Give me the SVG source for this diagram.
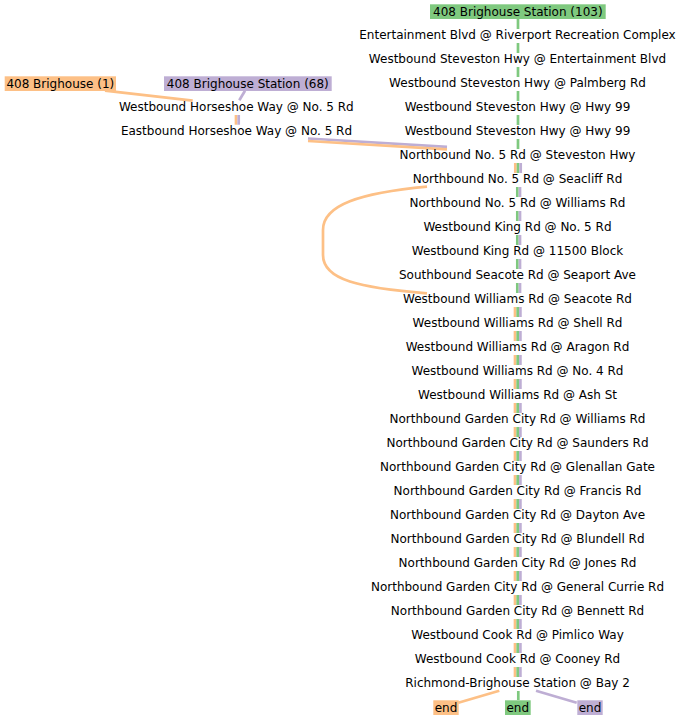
<svg xmlns="http://www.w3.org/2000/svg" width="682" height="720" viewBox="0 0 682 720">
<style>
text{font-family:"DejaVu Sans",sans-serif;font-size:12px;fill:#000;text-anchor:middle}
.o{stroke:#fdc086}.g{stroke:#7fc97f}.p{stroke:#beaed4}
#edges line,#edges path{stroke-width:2.7;fill:none}
.bo{fill:#fdc086}.bg{fill:#7fc97f}.bp{fill:#beaed4}
</style>
<rect width="682" height="720" fill="#fff"/>
<g id="edges">
<line class="g" x1="518" y1="19" x2="518" y2="29"/>
<line class="g" x1="518" y1="43" x2="518" y2="53"/>
<line class="g" x1="518" y1="67" x2="518" y2="77"/>
<line class="g" x1="518" y1="91" x2="518" y2="101"/>
<line class="g" x1="518" y1="115" x2="518" y2="125"/>
<line class="g" x1="518" y1="139" x2="518" y2="149"/>
<line class="o" x1="105" y1="90.7" x2="192.7" y2="100.7"/>
<line class="p" x1="245" y1="90.7" x2="239.3" y2="100.3"/>
<line class="o" x1="236" y1="115" x2="236" y2="124.7"/>
<line class="p" x1="238.7" y1="115" x2="238.7" y2="124.7"/>
<line class="p" x1="308" y1="138.5" x2="447" y2="146.8"/>
<line class="o" x1="308" y1="141" x2="447" y2="149.3"/>
<line class="o" x1="515.3" y1="163" x2="515.3" y2="173"/>
<line class="g" x1="518" y1="163" x2="518" y2="173"/>
<line class="p" x1="520.7" y1="163" x2="520.7" y2="173"/>
<path class="o" d="M427,186.7 C360,193 323,205 323,230 L323,255 C323,280 360,288 427,293.3"/>
<g id="mid2">
<line class="g" x1="517.3" y1="187" x2="517.3" y2="197"/><line class="p" x1="520" y1="187" x2="520" y2="197"/>
<line class="g" x1="517.3" y1="211" x2="517.3" y2="221"/><line class="p" x1="520" y1="211" x2="520" y2="221"/>
<line class="g" x1="517.3" y1="235" x2="517.3" y2="245"/><line class="p" x1="520" y1="235" x2="520" y2="245"/>
<line class="g" x1="517.3" y1="259" x2="517.3" y2="269"/><line class="p" x1="520" y1="259" x2="520" y2="269"/>
<line class="g" x1="517.3" y1="283" x2="517.3" y2="293"/><line class="p" x1="520" y1="283" x2="520" y2="293"/>
</g>
<g id="mid3">
<line class="o" x1="515" y1="307" x2="515" y2="317"/><line class="g" x1="517.7" y1="307" x2="517.7" y2="317"/><line class="p" x1="520.4" y1="307" x2="520.4" y2="317"/>
<line class="o" x1="515" y1="331" x2="515" y2="341"/><line class="g" x1="517.7" y1="331" x2="517.7" y2="341"/><line class="p" x1="520.4" y1="331" x2="520.4" y2="341"/>
<line class="o" x1="515" y1="355" x2="515" y2="365"/><line class="g" x1="517.7" y1="355" x2="517.7" y2="365"/><line class="p" x1="520.4" y1="355" x2="520.4" y2="365"/>
<line class="o" x1="515" y1="379" x2="515" y2="389"/><line class="g" x1="517.7" y1="379" x2="517.7" y2="389"/><line class="p" x1="520.4" y1="379" x2="520.4" y2="389"/>
<line class="o" x1="515" y1="403" x2="515" y2="413"/><line class="g" x1="517.7" y1="403" x2="517.7" y2="413"/><line class="p" x1="520.4" y1="403" x2="520.4" y2="413"/>
<line class="o" x1="515" y1="427" x2="515" y2="437"/><line class="g" x1="517.7" y1="427" x2="517.7" y2="437"/><line class="p" x1="520.4" y1="427" x2="520.4" y2="437"/>
<line class="o" x1="515" y1="451" x2="515" y2="461"/><line class="g" x1="517.7" y1="451" x2="517.7" y2="461"/><line class="p" x1="520.4" y1="451" x2="520.4" y2="461"/>
<line class="o" x1="515" y1="475" x2="515" y2="485"/><line class="g" x1="517.7" y1="475" x2="517.7" y2="485"/><line class="p" x1="520.4" y1="475" x2="520.4" y2="485"/>
<line class="o" x1="515" y1="499" x2="515" y2="509"/><line class="g" x1="517.7" y1="499" x2="517.7" y2="509"/><line class="p" x1="520.4" y1="499" x2="520.4" y2="509"/>
<line class="o" x1="515" y1="523" x2="515" y2="533"/><line class="g" x1="517.7" y1="523" x2="517.7" y2="533"/><line class="p" x1="520.4" y1="523" x2="520.4" y2="533"/>
<line class="o" x1="515" y1="547" x2="515" y2="557"/><line class="g" x1="517.7" y1="547" x2="517.7" y2="557"/><line class="p" x1="520.4" y1="547" x2="520.4" y2="557"/>
<line class="o" x1="515" y1="571" x2="515" y2="581"/><line class="g" x1="517.7" y1="571" x2="517.7" y2="581"/><line class="p" x1="520.4" y1="571" x2="520.4" y2="581"/>
<line class="o" x1="515" y1="595" x2="515" y2="605"/><line class="g" x1="517.7" y1="595" x2="517.7" y2="605"/><line class="p" x1="520.4" y1="595" x2="520.4" y2="605"/>
<line class="o" x1="515" y1="619" x2="515" y2="629"/><line class="g" x1="517.7" y1="619" x2="517.7" y2="629"/><line class="p" x1="520.4" y1="619" x2="520.4" y2="629"/>
<line class="o" x1="515" y1="643" x2="515" y2="653"/><line class="g" x1="517.7" y1="643" x2="517.7" y2="653"/><line class="p" x1="520.4" y1="643" x2="520.4" y2="653"/>
<line class="o" x1="515" y1="667" x2="515" y2="677"/><line class="g" x1="517.7" y1="667" x2="517.7" y2="677"/><line class="p" x1="520.4" y1="667" x2="520.4" y2="677"/>
</g>
<line class="o" x1="499.3" y1="690.7" x2="458.3" y2="702.7"/>
<line class="g" x1="518.3" y1="691" x2="518.3" y2="700"/>
<line class="p" x1="536" y1="690.7" x2="576.7" y2="702.7"/>
</g>
<g id="n_title"><rect class="bg" x="430" y="4.3" width="175.7" height="14.7"/><text x="517.8" y="15.8">408 Brighouse Station (103)</text></g>
<g id="n_src1"><rect class="bo" x="4.7" y="76.3" width="111.3" height="14.7"/><text x="60.3" y="87.8">408 Brighouse (1)</text></g>
<g id="n_src68"><rect class="bp" x="164" y="76.3" width="167.7" height="14.7"/><text x="247.8" y="87.8">408 Brighouse Station (68)</text></g>
<g id="n_wbhs"><text x="236.3" y="111.3">Westbound Horseshoe Way @ No. 5 Rd</text></g>
<g id="n_ebhs"><text x="236.5" y="135.3">Eastbound Horseshoe Way @ No. 5 Rd</text></g>
<g id="n1"><text x="517.5" y="39.3">Entertainment Blvd @ Riverport Recreation Complex</text></g>
<g id="n2"><text x="517.5" y="63.3">Westbound Steveston Hwy @ Entertainment Blvd</text></g>
<g id="n3"><text x="517.5" y="87.3">Westbound Steveston Hwy @ Palmberg Rd</text></g>
<g id="n4"><text x="517.5" y="111.3">Westbound Steveston Hwy @ Hwy 99</text></g>
<g id="n5"><text x="517.5" y="135.3">Westbound Steveston Hwy @ Hwy 99</text></g>
<g id="n6"><text x="517.5" y="159.3">Northbound No. 5 Rd @ Steveston Hwy</text></g>
<g id="n7"><text x="517.5" y="183.3">Northbound No. 5 Rd @ Seacliff Rd</text></g>
<g id="n8"><text x="517.5" y="207.3">Northbound No. 5 Rd @ Williams Rd</text></g>
<g id="n9"><text x="517.5" y="231.3">Westbound King Rd @ No. 5 Rd</text></g>
<g id="n10"><text x="517.5" y="255.3">Westbound King Rd @ 11500 Block</text></g>
<g id="n11"><text x="517.5" y="279.3">Southbound Seacote Rd @ Seaport Ave</text></g>
<g id="n12"><text x="517.5" y="303.3">Westbound Williams Rd @ Seacote Rd</text></g>
<g id="n13"><text x="517.5" y="327.3">Westbound Williams Rd @ Shell Rd</text></g>
<g id="n14"><text x="517.5" y="351.3">Westbound Williams Rd @ Aragon Rd</text></g>
<g id="n15"><text x="517.5" y="375.3">Westbound Williams Rd @ No. 4 Rd</text></g>
<g id="n16"><text x="517.5" y="399.3">Westbound Williams Rd @ Ash St</text></g>
<g id="n17"><text x="517.5" y="423.3">Northbound Garden City Rd @ Williams Rd</text></g>
<g id="n18"><text x="517.5" y="447.3">Northbound Garden City Rd @ Saunders Rd</text></g>
<g id="n19"><text x="517.5" y="471.3">Northbound Garden City Rd @ Glenallan Gate</text></g>
<g id="n20"><text x="517.5" y="495.3">Northbound Garden City Rd @ Francis Rd</text></g>
<g id="n21"><text x="517.5" y="519.3">Northbound Garden City Rd @ Dayton Ave</text></g>
<g id="n22"><text x="517.5" y="543.3">Northbound Garden City Rd @ Blundell Rd</text></g>
<g id="n23"><text x="517.5" y="567.3">Northbound Garden City Rd @ Jones Rd</text></g>
<g id="n24"><text x="517.5" y="591.3">Northbound Garden City Rd @ General Currie Rd</text></g>
<g id="n25"><text x="517.5" y="615.3">Northbound Garden City Rd @ Bennett Rd</text></g>
<g id="n26"><text x="517.5" y="639.3">Westbound Cook Rd @ Pimlico Way</text></g>
<g id="n27"><text x="517.5" y="663.3">Westbound Cook Rd @ Cooney Rd</text></g>
<g id="n28"><text x="517.5" y="687.3">Richmond-Brighouse Station @ Bay 2</text></g>
<g id="end_o"><rect class="bo" x="433.3" y="700.3" width="25.4" height="14.7"/><text x="446" y="711.8">end</text></g>
<g id="end_g"><rect class="bg" x="505" y="700.3" width="25.7" height="14.7"/><text x="517.8" y="711.8">end</text></g>
<g id="end_p"><rect class="bp" x="577.3" y="700.3" width="25.4" height="14.7"/><text x="590" y="711.8">end</text></g>
</svg>
